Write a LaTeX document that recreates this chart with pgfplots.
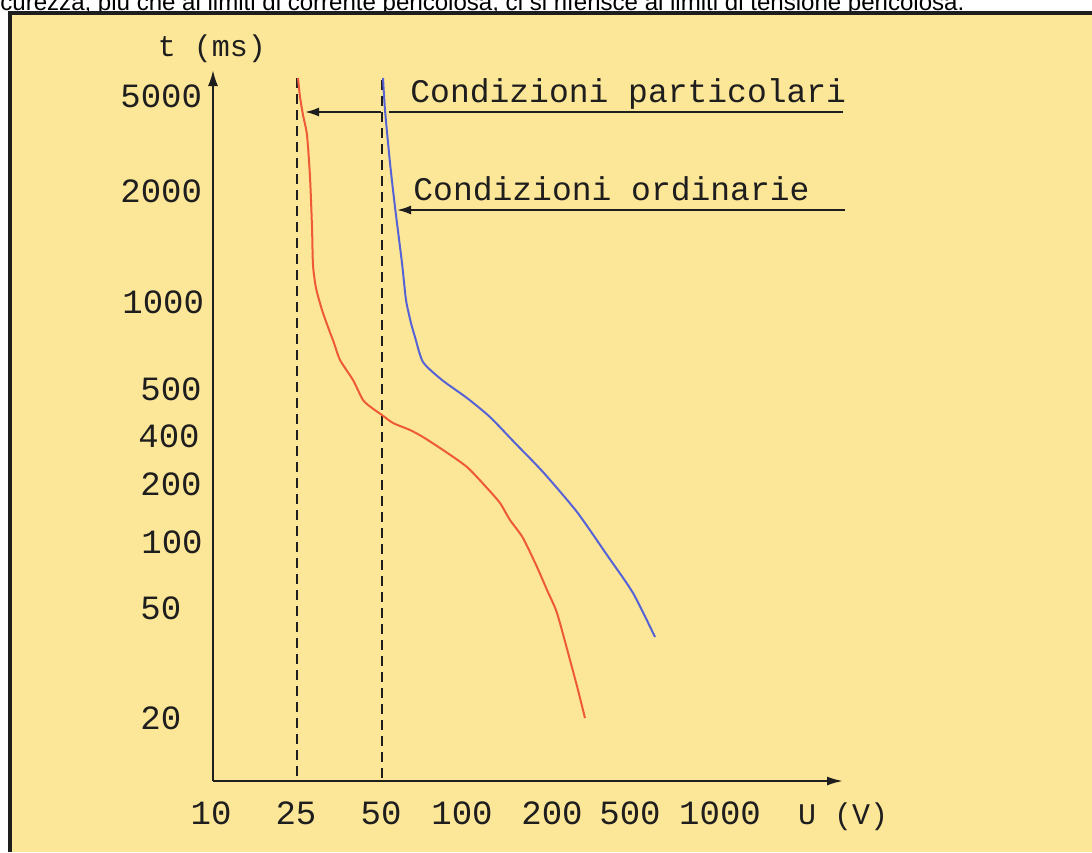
\documentclass[border=0pt]{standalone}
\usepackage{pgfplots}
\pgfplotsset{compat=1.18}
\usepackage{fontspec}
\setmainfont{Liberation Sans}
\newfontfamily\cad{Liberation Mono}
\usetikzlibrary{arrows.meta}
\definecolor{bgy}{HTML}{FCE697}
\definecolor{redc}{HTML}{EE5A38}
\definecolor{bluec}{HTML}{5563D6}
\definecolor{ink}{HTML}{1E1E1E}
\begin{document}
\begin{tikzpicture}
\begin{axis}[scale only axis, width=546pt, height=426pt, at={(0,0)}, anchor=south west,
  xmin=0, xmax=1092, ymin=0, ymax=852, y dir=reverse, hide axis, clip=false]
% background
\fill[white] (axis cs:0,0) rectangle (axis cs:1092,852);
\fill[bgy] (axis cs:10,13) rectangle (axis cs:1092,852);
\node[anchor=base west, inner sep=0, text=black] at (axis cs:0,10)
  {\resizebox{482pt}{!}{curezza, più che ai limiti di corrente pericolosa, ci si riferisce ai limiti di tensione pericolosa.}};
\draw[line width=1.8pt, ink] (axis cs:10,852) -- (axis cs:10,13) -- (axis cs:1092,13);
% axes
\draw[line width=1pt, ink, -{Latex[length=8pt,width=5pt]}] (axis cs:213,781) -- (axis cs:213,70);
\draw[line width=1pt, ink, -{Latex[length=8pt,width=4.5pt]}] (axis cs:213,781) -- (axis cs:843,781);
% dashed reference lines
\addplot[ink, line width=1pt, dash pattern=on 5pt off 3pt] coordinates {(297,78) (297,781)};
\addplot[ink, line width=1pt, dash pattern=on 5pt off 3pt] coordinates {(382,80) (382,781)};
% curves
\addplot[redc, line width=1pt, smooth, tension=0.4] coordinates {
(298,78) (300,97) (303,115) (307,135) (310,177) (312,227) (313,265) (316,288)
(322,310) (328,327) (334,343) (340,360) (353,380) (363,400) (372,408) (382,415)
(393,423) (410,430) (423,437) (443,450) (467,467) (487,488) (500,503) (510,520)
(523,538) (537,567) (547,590) (557,613) (570,660) (578,690) (585,718)};
\addplot[bluec, line width=1pt, smooth, tension=0.4] coordinates {
(383,78) (385,110) (390,163) (395,207) (402,263) (406,300) (411,323) (415,337)
(423,362) (442,380) (467,398) (490,417) (515,443) (543,472) (577,512) (607,555)
(633,593) (655,637)};
% annotation arrows
\draw[line width=1pt, ink] (axis cs:843,112) -- (axis cs:389,112);
\draw[line width=1pt, ink, -{Latex[length=7pt,width=4.5pt]}] (axis cs:381,112) -- (axis cs:305,112);
\draw[line width=1pt, ink, -{Latex[length=7pt,width=4.5pt]}] (axis cs:845,210) -- (axis cs:397,210);
\node[anchor=base west, inner sep=0, text=ink, font=\cad\fontsize{16.5pt}{18pt}\selectfont] at (axis cs:410,102) {Condizioni particolari};
\node[anchor=base west, inner sep=0, text=ink, font=\cad\fontsize{16.5pt}{18pt}\selectfont] at (axis cs:413,200) {Condizioni ordinarie};
% axis titles
\node[anchor=base, inner sep=0, text=ink, font=\cad\fontsize{15pt}{17pt}\selectfont] at (axis cs:212,56) {t (ms)};
\node[anchor=base, inner sep=0, text=ink, font=\cad\fontsize{15pt}{17pt}\selectfont] at (axis cs:843,824) {U (V)};
% y tick labels
\begin{scope}[every node/.style={anchor=base west, inner sep=0, text=ink, font=\cad\fontsize{17pt}{19pt}\selectfont}]
\node at (axis cs:120,107) {5000};
\node at (axis cs:120,202) {2000};
\node at (axis cs:122,313) {1000};
\node at (axis cs:140,400) {500};
\node at (axis cs:138,447) {400};
\node at (axis cs:140,495) {200};
\node at (axis cs:141,553) {100};
\node at (axis cs:140,619) {50};
\node at (axis cs:140,729) {20};
\end{scope}
% x tick labels
\begin{scope}[every node/.style={anchor=base, inner sep=0, text=ink, font=\cad\fontsize{17pt}{19pt}\selectfont}]
\node at (axis cs:211,824) {10};
\node at (axis cs:296,824) {25};
\node at (axis cs:381,824) {50};
\node at (axis cs:462,824) {100};
\node at (axis cs:552,824) {200};
\node at (axis cs:630,824) {500};
\node at (axis cs:720,824) {1000};
\end{scope}
\end{axis}
\pgfresetboundingbox
\useasboundingbox (0,0) rectangle (546pt,426pt);
\end{tikzpicture}
\end{document}
